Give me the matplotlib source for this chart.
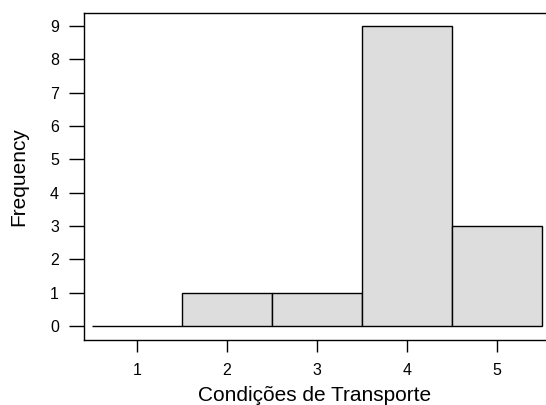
import matplotlib.pyplot as plt

plt.rcParams['font.family'] = ['Liberation Sans', 'DejaVu Sans']

categories = [1, 2, 3, 4, 5]
counts = [0, 1, 1, 9, 3]

fig = plt.figure(figsize=(5.46, 4.05), dpi=100)
ax = fig.add_axes([84 / 546, 65 / 405, 462 / 546, 327 / 405])

ax.bar(categories, counts, width=1.0, color='#dddddd', edgecolor='black', linewidth=1.0)

ax.set_xlim(0.411, 5.544)
ax.set_ylim(-0.42, 9.39)
ax.set_xticks(categories)
ax.set_yticks(range(0, 10))
ax.spines['right'].set_visible(False)
for s in ['left', 'top', 'bottom']:
    ax.spines[s].set_linewidth(1.0)

ax.tick_params(axis='x', direction='out', length=8.5, width=1.0, pad=8, labelsize=11.5)
ax.tick_params(axis='y', direction='out', length=11, width=1.0, pad=7, labelsize=11.5)

ax.set_xlabel('Condições de Transporte', fontsize=15, labelpad=6)
ax.set_ylabel('Frequency', fontsize=15, labelpad=16)

fig.savefig('out.png', dpi=100)
